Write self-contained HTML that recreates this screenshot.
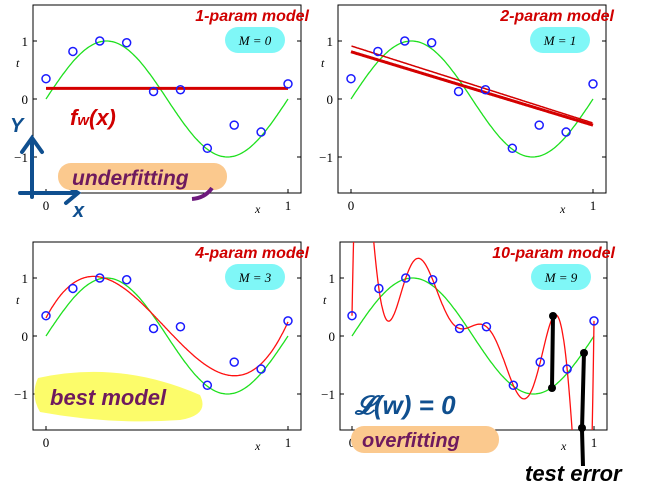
<!DOCTYPE html>
<html style="overflow:hidden"><head><meta charset="utf-8"><style>
html,body{margin:0;padding:0;overflow:hidden}
body{background:#fff;width:647px;height:494px;position:relative}
svg{display:block;overflow:hidden}
text{font-family:"Liberation Serif",serif}
.hw{font-family:"Liberation Sans",sans-serif;font-weight:bold;font-style:italic}
</style></head><body>
<svg id="s" width="647" height="494" style="position:absolute;left:0;top:0"></svg>
<script>
const xsData=[0,1/9,2/9,3/9,4/9,5/9,6/9,7/9,8/9,1];
const tData=[0.35,0.82,1.0,0.97,0.13,0.16,-0.85,-0.45,-0.57,0.26];
const orders=[0,1,3,9];
const panelLabels=['M = 0','M = 1','M = 3','M = 9'];
const titles=['1-param model','2-param model','4-param model','10-param model'];
const yTicks=[1,0,-1];
const xTicks=[0,1];
const NS='http://www.w3.org/2000/svg';
const svg=document.getElementById('s');
function mk(tag,attrs,parent){const e=document.createElementNS(NS,tag);for(const k in attrs)e.setAttribute(k,attrs[k]);(parent||svg).appendChild(e);return e;}
function fit(M){
  const n=M+1,A=[],b=[];
  for(let i=0;i<n;i++){A.push(new Array(n).fill(0));b.push(0);}
  xsData.forEach((x,k)=>{for(let i=0;i<n;i++){b[i]+=Math.pow(x,i)*tData[k];for(let j=0;j<n;j++)A[i][j]+=Math.pow(x,i+j);}});
  for(let c=0;c<n;c++){let p=c;for(let r=c+1;r<n;r++)if(Math.abs(A[r][c])>Math.abs(A[p][c]))p=r;
    [A[c],A[p]]=[A[p],A[c]];[b[c],b[p]]=[b[p],b[c]];
    for(let r=0;r<n;r++){if(r===c)continue;const f=A[r][c]/A[c][c];for(let j=c;j<n;j++)A[r][j]-=f*A[c][j];b[r]-=f*b[c];}}
  return b.map((v,i)=>v/A[i][i]);
}
function lagr(x){let s=0;for(let i=0;i<10;i++){let p=tData[i];for(let j=0;j<10;j++)if(j!==i)p*=(x-xsData[j])/(xsData[i]-xsData[j]);s+=p;}return s;}
const panels=[{x0:46,x1:288,y0:99,fl:33,fr:301,ft:5,fb:193},{x0:351,x1:593,y0:99,fl:338,fr:606,ft:5,fb:193},
{x0:46,x1:288,y0:336,fl:33,fr:301,ft:242,fb:430},{x0:352,x1:594,y0:336,fl:340,fr:607,ft:242,fb:430}];
panels.forEach((P,pi)=>{
  const sx=x=>P.x0+x*(P.x1-P.x0), sy=t=>P.y0-t*58;
  const g=mk('g',{});
  const cp=mk('clipPath',{id:'c'+pi},g);mk('rect',{x:P.fl,y:P.ft,width:P.fr-P.fl,height:P.fb-P.ft},cp);
  const fr=mk('rect',{x:P.fl,y:P.ft,width:P.fr-P.fl,height:P.fb-P.ft,fill:'none',stroke:'#000','stroke-width':1},g);
  
  yTicks.forEach(v=>{mk('line',{x1:P.fl,x2:P.fl+4,y1:sy(v),y2:sy(v),stroke:'#000'},g);mk('line',{x1:P.fr-4,x2:P.fr,y1:sy(v),y2:sy(v),stroke:'#000'},g);
    const t=mk('text',{x:P.fl-5,y:sy(v)+5,'text-anchor':'end','font-size':13},g);t.textContent=v<0?'−1':String(v);
    });
  xTicks.forEach(v=>{mk('line',{x1:sx(v),x2:sx(v),y1:P.fb,y2:P.fb-4,stroke:'#000'},g);
    const t=mk('text',{x:sx(v),y:P.fb+17,'text-anchor':'middle','font-size':13},g);t.textContent=String(v);
    });
  const xl=mk('text',{x:P.x0+209,y:P.fb+20,'font-size':12,'font-style':'italic'},g);xl.textContent='x';
  
  const yl=mk('text',{x:P.fl-17,y:P.y0-32,'font-size':12,'font-style':'italic'},g);yl.textContent='t';
  
  let d='';for(let i=0;i<=200;i++){const x=i/200;d+=(i?'L':'M')+sx(x).toFixed(1)+','+sy(Math.sin(2*Math.PI*x)).toFixed(1);}
  const gr=mk('path',{d,fill:'none',stroke:'#1ee01e','stroke-width':1.3},g);
  const M=orders[pi];const w=M<9?fit(M):null;
  const f=x=>M<9?w.reduce((s,c,i)=>s+c*Math.pow(x,i),0):lagr(x);
  d='';for(let i=0;i<=400;i++){const x=i/400;let y=sy(f(x));y=Math.max(P.ft-20,Math.min(P.fb+20,y));d+=(i?'L':'M')+sx(x).toFixed(1)+','+y.toFixed(1);}
  const thick=M<=1;
  const rf=mk('path',{d,fill:'none',stroke:thick?'#d40000':'#ff1010','stroke-width':thick?3:1.3,'clip-path':'url(#c'+pi+')'},g);
  
  if(M===1){const rf2=mk('path',{d,fill:'none',stroke:'#d40000','stroke-width':1.5,transform:'translate(0,-4) rotate(0.8,'+sx(0.5)+','+sy(0.2)+')'},g);
    }
  xsData.forEach((x,i)=>{const c=mk('circle',{cx:sx(x),cy:sy(tData[i]),r:4,fill:'none',stroke:'#1a1aff','stroke-width':1.5},g);
    });
  const bx=P.fr-76;const by=P.ft+22;
  const bb=mk('rect',{x:bx,y:by,width:60,height:26,rx:13,fill:'#7ff7f7'},g);
  const bt=mk('text',{x:bx+30,y:by+18,'text-anchor':'middle','font-size':13,'font-style':'italic'},g);bt.textContent=panelLabels[pi];
  
  const tt=mk('text',{x:P.fr+8,y:P.ft+16,'text-anchor':'end','font-size':16,fill:'#d00000',class:'hw'},g);tt.textContent=titles[pi];
  
});
</script>
<svg style="position:absolute;left:0;top:0" width="647" height="494">
<g class="hw">
<text x="70" y="125" font-size="22" fill="#d00000" class="hw">f<tspan font-size="15">w</tspan>(x)</text>
<path d="M32 197 L32 140 M22 152 L32 138 L42 152 M20 193 L76 193 M64 184 L78 193 L66 203" stroke="#0f4f8f" stroke-width="4" fill="none" stroke-linecap="round"/>
<text x="10" y="132" font-size="20" fill="#0f4f8f" class="hw">Y</text>
<text x="73" y="217" font-size="20" fill="#0f4f8f" class="hw">x</text>
<rect x="58" y="163" width="169" height="27" rx="13" fill="#fbc98e"/>
<text x="72" y="185" font-size="21" fill="#6e1a5e" class="hw">underfitting</text>
<path d="M192 199 Q205 198 212 188" stroke="#6e1a7e" stroke-width="4" fill="none"/>
<path d="M38 378 Q120 360 200 395 Q210 415 180 420 Q110 425 40 412 Q30 395 38 378Z" fill="#fcfc6a"/>
<text x="50" y="405" font-size="22" fill="#6e1a5e" class="hw">best model</text>
<rect x="351" y="426" width="148" height="27" rx="13" fill="#fbc98e"/>
<text x="362" y="447" font-size="20" fill="#6e1a5e" class="hw">overfitting</text>
<text x="355" y="414" font-size="26" fill="#0f4f8f" class="hw">𝓛(w) = 0</text>
<path d="M553 316 L552 388 M584 352 L582 430 L583 466" stroke="#000" stroke-width="4" fill="none"/>
<circle cx="553" cy="316" r="4"/><circle cx="552" cy="388" r="4"/><circle cx="584" cy="353" r="4"/><circle cx="582" cy="428" r="4"/>
<text x="525" y="481" font-size="22" fill="#000" class="hw">test error</text>
</g></svg>
</body></html>
